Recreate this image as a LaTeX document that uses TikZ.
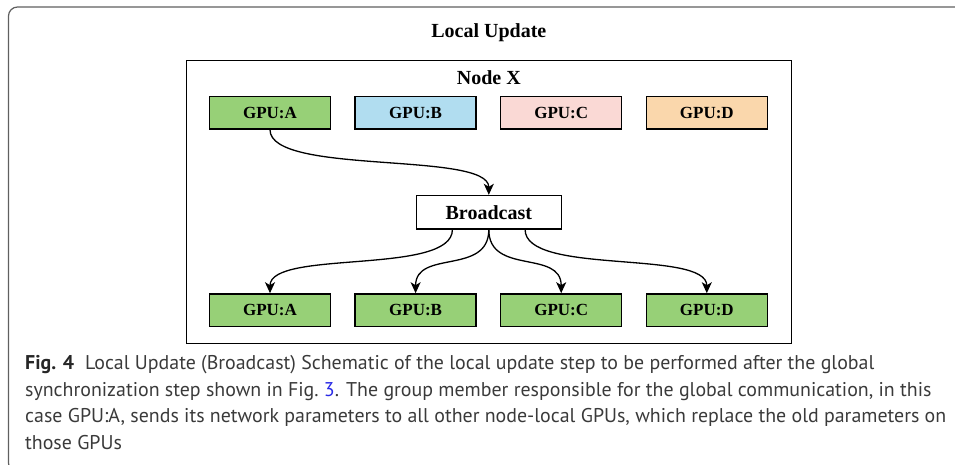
\documentclass[tikz,border=0pt]{standalone}
\usepackage{fontspec}
\setmainfont{Liberation Serif}
\newfontfamily\capfont{PT Sans}
\usetikzlibrary{positioning,arrows.meta}
\definecolor{gpugreen}{HTML}{97D077}
\definecolor{gpublue}{HTML}{B1DDF0}
\definecolor{gpupink}{HTML}{FAD9D5}
\definecolor{gpuorange}{HTML}{FAD7AC}
\definecolor{capgray}{HTML}{3A3A3A}
\definecolor{linkblue}{HTML}{2A2AE6}

\begin{document}
\begin{tikzpicture}[
  x=1pt, y=-1pt,
  node distance=23.3pt,
  gpu/.style={minimum width=121pt, minimum height=32.5pt, inner sep=0pt, draw, line width=1.3pt,
    font=\fontsize{17}{19}\selectfont\bfseries},
  flow/.style={->, line width=1.3pt},
  >={Stealth[length=11pt,width=10pt,inset=3pt]}
]
  \useasboundingbox (0,0) rectangle (955,465);
  % outer frame, cut by the page
  \draw[gray!75!black, line width=1.2pt, rounded corners=9pt] (8.5,7) rectangle (975,472);

  \node[anchor=base, font=\fontsize{20}{22}\selectfont\bfseries] (title) at (488.8,38) {Local Update};
  \node[draw, line width=1.3pt, minimum width=605pt, minimum height=283pt, inner sep=0pt] (nodeX) at (488.8,202.3) {};
  \node[anchor=base, font=\fontsize{20}{22}\selectfont\bfseries] (nodeXlabel) at (488.8,85) {Node X};

  \node[gpu, fill=gpugreen] (a1) at (270,112.8) {GPU:A};
  \node[gpu, fill=gpublue, right=of a1] (b1) {GPU:B};
  \node[gpu, fill=gpupink, right=of b1] (c1) {GPU:C};
  \node[gpu, fill=gpuorange, right=of c1] (d1) {GPU:D};

  \node[gpu, fill=white, minimum width=145pt, minimum height=33.5pt, font=\fontsize{20}{22}\selectfont\bfseries] (bc) at (488.8,212.2) {Broadcast};

  \node[gpu, fill=gpugreen, below=163.5pt of a1] (a2) {GPU:A};
  \node[gpu, fill=gpugreen, right=of a2] (b2) {GPU:B};
  \node[gpu, fill=gpugreen, right=of b2] (c2) {GPU:C};
  \node[gpu, fill=gpugreen, right=of c2] (d2) {GPU:D};

  \coordinate (bcl) at ([xshift=-36.4pt]bc.south);
  \coordinate (bcr) at ([xshift=36.3pt]bc.south);

  \draw[flow] (a1.south) .. controls +(0,46) and +(0,-44) .. (bc.north);
  \draw[flow] (bcl) .. controls +(0,46) and +(0,-44) .. (a2.north);
  \draw[flow] (bc.south) .. controls +(0,46) and +(0,-44) .. (b2.north);
  \draw[flow] (bc.south) .. controls +(0,46) and +(0,-44) .. (c2.north);
  \draw[flow] (bcr) .. controls +(0,46) and +(0,-44) .. (d2.north);

  \node[anchor=north west, align=left, inner sep=0pt, text=capgray,
    font=\capfont\fontsize{19.9}{26.5}\selectfont] (caption) at (25,355.5)
    {{\color{black!85}\textbf{Fig. 4}}\hspace{11pt}Local Update (Broadcast) Schematic of the local update step to be performed after the global\\
     synchronization step shown in Fig.~{\color{linkblue}3}. The group member responsible for the global communication, in this\\
     case GPU:A, sends its network parameters to all other node-local GPUs, which replace the old parameters on\\
     those GPUs};
\end{tikzpicture}
\end{document}
